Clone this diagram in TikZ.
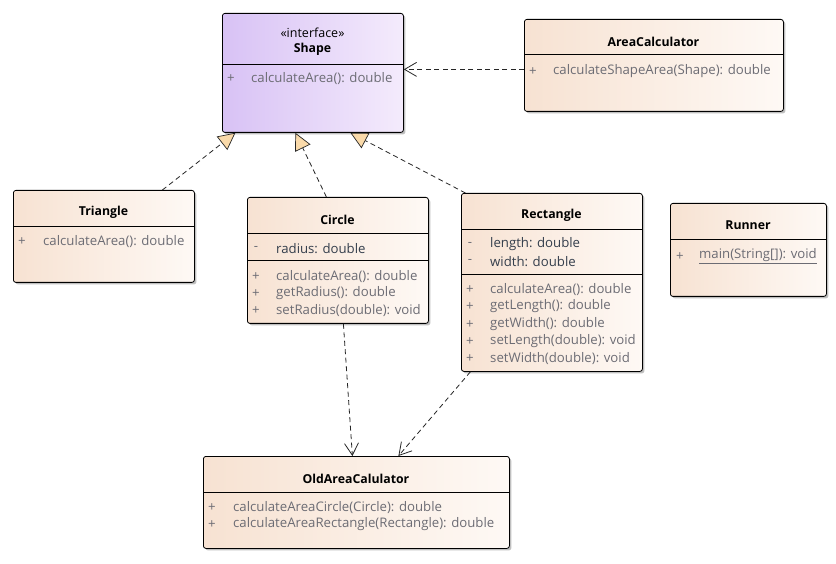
\documentclass[tikz,border=0pt]{standalone}
\usepackage{fontspec}
\setmainfont{Open Sans}
\usetikzlibrary{arrows.meta,shadows}

\definecolor{peachL}{RGB}{247,226,210}
\definecolor{peachR}{RGB}{254,249,245}
\definecolor{lilacL}{RGB}{216,194,245}
\definecolor{lilacR}{RGB}{244,235,252}
\definecolor{opgray}{RGB}{108,108,116}
\definecolor{attrgray}{RGB}{52,62,76}
\definecolor{tipfill}{RGB}{250,218,170}

\tikzset{
  classbox/.style={draw=black, line width=0.8pt, rounded corners=2.5pt,
    anchor=north west, inner sep=0pt, left color=peachL, right color=peachR,
    drop shadow={shadow xshift=2pt, shadow yshift=-2pt, opacity=0.25, fill=black}},
  ifacebox/.style={classbox, left color=lilacL, right color=lilacR},
  label text/.style={inner sep=0pt, yshift=-1.5pt},
  title/.style={label text, font=\fontsize{12.3}{14}\selectfont\bfseries, text=black},
  stereo/.style={label text, font=\fontsize{12.5}{14}\selectfont, text=black},
  vis/.style={label text, font=\fontsize{13.2}{15}\selectfont, text=opgray},
  oper/.style={label text, font=\fontsize{13.2}{15}\selectfont, text=opgray, anchor=west},
  attr/.style={label text, font=\fontsize{13.2}{15}\selectfont, text=attrgray, anchor=west},
  divider/.style={draw=black, line width=0.7pt},
  realize/.style={draw=black!85, line width=0.8pt, dash pattern=on 5pt off 3.5pt,
    -{Triangle[length=17pt, width=17pt, fill=tipfill, line width=0.7pt]}},
  depend/.style={draw=black!85, line width=0.8pt, dash pattern=on 5pt off 3.5pt,
    -{Straight Barb[length=12pt, width=14pt, line width=0.8pt]}},
}

\begin{document}
\begin{tikzpicture}[x=1pt, y=-1pt]
\useasboundingbox[fill=white] (0,0) rectangle (836,564);

% ---------- Shape (interface) ----------
\node[ifacebox, minimum width=181pt, minimum height=119pt] (shape) at (222,13) {};
\node[stereo] (shapeSt) at (312.5,31) {«interface»};
\node[title] (shapeT) at (312.5,48) {Shape};
\draw[divider] (222,64) -- (403,64);
\node[vis] (shapeV1) at (231,77) {+};
\node[oper] (shapeM1) at (251,77) {calculateArea(): double};

% ---------- AreaCalculator ----------
\node[classbox, minimum width=259pt, minimum height=92pt] (ac) at (524,19) {};
\node[title] (acT) at (653.5,40) {AreaCalculator};
\draw[divider] (524,54) -- (783,54);
\node[vis] (acV1) at (533,70) {+};
\node[oper] (acM1) at (553,70) {calculateShapeArea(Shape): double};

% ---------- Triangle ----------
\node[classbox, minimum width=181pt, minimum height=92pt] (tri) at (13,190) {};
\node[title] (triT) at (103.5,211) {Triangle};
\draw[divider] (13,226) -- (194,226);
\node[vis] (triV1) at (22,240) {+};
\node[oper] (triM1) at (43,240) {calculateArea(): double};

% ---------- Circle ----------
\node[classbox, minimum width=181pt, minimum height=126pt] (circ) at (247,197) {};
\node[title] (circT) at (337.5,218) {Circle};
\draw[divider] (247,233) -- (428,233);
\node[vis] (circV1) at (256,247) {-};
\node[attr] (circA1) at (276,247) {radius: double};
\draw[divider] (247,260) -- (428,260);
\node[vis] (circV2) at (256,275) {+};
\node[oper] (circM1) at (276,275) {calculateArea(): double};
\node[vis] (circV3) at (256,292) {+};
\node[oper] (circM2) at (276,292) {getRadius(): double};
\node[vis] (circV4) at (256,309) {+};
\node[oper] (circM3) at (276,309) {setRadius(double): void};

% ---------- Rectangle ----------
\node[classbox, minimum width=181pt, minimum height=178pt] (rect) at (461,193) {};
\node[title] (rectT) at (551.5,214) {Rectangle};
\draw[divider] (461,229) -- (642,229);
\node[vis] (rectV1) at (470,243) {-};
\node[attr] (rectA1) at (490,243) {length: double};
\node[vis] (rectV2) at (470,260) {-};
\node[attr] (rectA2) at (490,260) {width: double};
\draw[divider] (461,274) -- (642,274);
\node[vis] (rectV3) at (470,288) {+};
\node[oper] (rectM1) at (490,288) {calculateArea(): double};
\node[vis] (rectV4) at (470,305) {+};
\node[oper] (rectM2) at (490,305) {getLength(): double};
\node[vis] (rectV5) at (470,323) {+};
\node[oper] (rectM3) at (490,323) {getWidth(): double};
\node[vis] (rectV6) at (470,340) {+};
\node[oper] (rectM4) at (490,340) {setLength(double): void};
\node[vis] (rectV7) at (470,357) {+};
\node[oper] (rectM5) at (490,357) {setWidth(double): void};

% ---------- Runner ----------
\node[classbox, minimum width=156pt, minimum height=93pt] (run) at (670,203) {};
\node[title] (runT) at (748,224) {Runner};
\draw[divider] (670,239) -- (826,239);
\node[vis] (runV1) at (680,255) {+};
\node[oper] (runM1) at (699,255) {\underline{main(String[]): void}};

% ---------- OldAreaCalulator ----------
\node[classbox, minimum width=306pt, minimum height=92pt] (old) at (203,456) {};
\node[title] (oldT) at (356,477) {OldAreaCalulator};
\draw[divider] (203,492) -- (509,492);
\node[vis] (oldV1) at (212,506) {+};
\node[oper] (oldM1) at (233,506) {calculateAreaCircle(Circle): double};
\node[vis] (oldV2) at (212,523) {+};
\node[oper] (oldM2) at (233,523) {calculateAreaRectangle(Rectangle): double};

% ---------- Realizations ----------
\draw[realize] ([xshift=58.5pt]tri.north) -- ([xshift=-77.5pt]shape.south);
\draw[realize] ([xshift=-11.5pt]circ.north) -- ([xshift=-17.5pt]shape.south);
\draw[realize] ([xshift=-86.5pt]rect.north) -- ([xshift=37.5pt]shape.south);

% ---------- Dependencies ----------
\draw[depend] ([yshift=-4pt]ac.west) -- ([yshift=-4pt]ac.west -| shape.east);
\draw[depend] ([xshift=5.5pt]circ.south) -- ([xshift=-4pt]old.north);
\draw[depend] ([xshift=-81.5pt]rect.south) -- ([xshift=42pt]old.north);
\end{tikzpicture}
\end{document}
